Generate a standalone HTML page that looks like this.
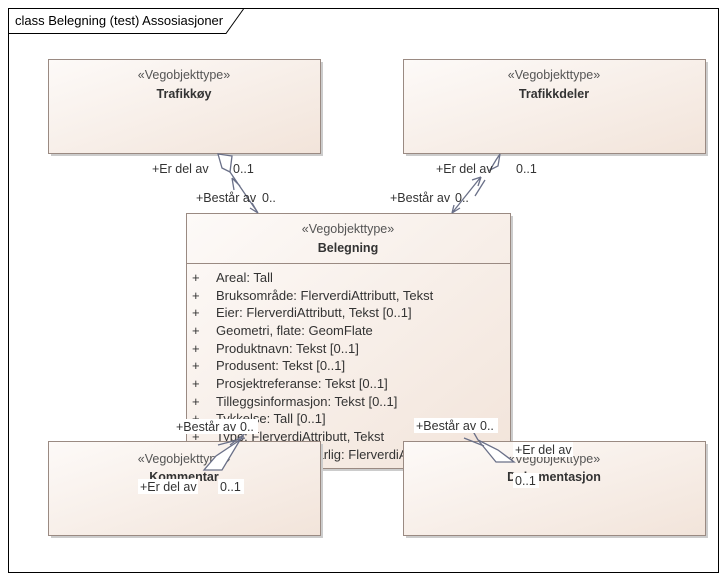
<!DOCTYPE html>
<html><head><meta charset="utf-8"><style>
html,body{margin:0;padding:0;background:#fff}
svg{display:block;font-family:"Liberation Sans",sans-serif;font-size:12.5px}
</style></head><body>
<svg width="726" height="580" viewBox="0 0 726 580">
<defs>
<linearGradient id="g" x1="0" y1="0" x2="1" y2="1">
<stop offset="0" stop-color="#fdfaf8"/><stop offset="1" stop-color="#f2e4da"/>
</linearGradient>
</defs>
<rect x="8.5" y="8.5" width="710" height="564" fill="#fff" stroke="#000"/>
<path d="M8.5 33.5 H226 L243.5 9" fill="none" stroke="#000"/>
<text x="15" y="25" font-size="13" fill="#000">class Belegning (test) Assosiasjoner</text>

<g stroke="#9a8a82" fill="url(#g)">
<rect x="51" y="62" width="272" height="94" fill="#ccc" stroke="none"/>
<rect x="48.5" y="59.5" width="272" height="94"/>
<rect x="406" y="62" width="302" height="94" fill="#ccc" stroke="none"/>
<rect x="403.5" y="59.5" width="302" height="94"/>
<rect x="189" y="216" width="324" height="255" fill="#ccc" stroke="none"/>
<rect x="186.5" y="213.5" width="324" height="255"/>
<line x1="186.5" y1="263.5" x2="510.5" y2="263.5"/>
</g>
<g fill="#333">
<text x="184" y="79" text-anchor="middle" fill="#555">«Vegobjekttype»</text>
<text x="184" y="98" text-anchor="middle" font-weight="bold">Trafikkøy</text>
<text x="554" y="79" text-anchor="middle" fill="#555">«Vegobjekttype»</text>
<text x="554" y="98" text-anchor="middle" font-weight="bold">Trafikkdeler</text>
<text x="348" y="233" text-anchor="middle" fill="#555">«Vegobjekttype»</text>
<text x="348" y="252" text-anchor="middle" font-weight="bold">Belegning</text>
</g>
<g fill="#333" font-size="13">
<text x="192" y="282">+</text><text x="216" y="282">Areal: Tall</text>
<text x="192" y="300">+</text><text x="216" y="300">Bruksområde: FlerverdiAttributt, Tekst</text>
<text x="192" y="317">+</text><text x="216" y="317">Eier: FlerverdiAttributt, Tekst [0..1]</text>
<text x="192" y="335">+</text><text x="216" y="335">Geometri, flate: GeomFlate</text>
<text x="192" y="353">+</text><text x="216" y="353">Produktnavn: Tekst [0..1]</text>
<text x="192" y="370">+</text><text x="216" y="370">Produsent: Tekst [0..1]</text>
<text x="192" y="388">+</text><text x="216" y="388">Prosjektreferanse: Tekst [0..1]</text>
<text x="192" y="406">+</text><text x="216" y="406">Tilleggsinformasjon: Tekst [0..1]</text>
<text x="192" y="423">+</text><text x="216" y="423">Tykkelse: Tall [0..1]</text>
<text x="192" y="441">+</text><text x="216" y="441">Type: FlerverdiAttributt, Tekst</text>
<text x="192" y="459">+</text><text x="216" y="459">Vedlikeholdsansvarlig: FlerverdiAttributt</text>
</g>
<g stroke="#9a8a82" fill="url(#g)">
<rect x="51" y="444" width="272" height="94" fill="#ccc" stroke="none"/>
<rect x="48.5" y="441.5" width="272" height="94"/>
<rect x="406" y="444" width="302" height="94" fill="#ccc" stroke="none"/>
<rect x="403.5" y="441.5" width="302" height="94"/>
</g>
<g fill="#333">
<text x="184" y="463" text-anchor="middle" fill="#555">«Vegobjekttype»</text>
<text x="184" y="481" text-anchor="middle" font-weight="bold">Kommentar</text>
<text x="554" y="463" text-anchor="middle" fill="#555">«Vegobjekttype»</text>
<text x="554" y="481" text-anchor="middle" font-weight="bold">Dokumentasjon</text>
</g>
<g stroke="#6a7088" stroke-width="1.3" fill="none">
<path d="M218 154 L232 156 L230 172 L222 168 Z" fill="#fff"/>
<path d="M230 172 L258 213 M232 178 L234 190 M232 178 L240 186 M258 213 L250 208 M258 213 L252 203"/>
<path d="M500 154 L498 166 L490 170 L496 160 Z" fill="#fff"/>
<path d="M480 178 L452 213 M481 177 L472 180 M481 177 L478 186 M452 213 L454 205 M452 213 L460 208 M485 180 L475 196"/>
<path d="M240 440 L222 470 L204 470 L216 456 Z" fill="#fff"/>
<path d="M240 440 L248 428 M218 445 L245 438 M230 445 L247 432"/>
<path d="M478 440 L496 462 L514 462 L498 450 Z" fill="#fff"/>
<path d="M464 438 L484 446 M478 440 L470 426"/>
</g>
<g fill="#333">
<rect x="150" y="160" width="60" height="16" fill="#fff"/>
<text x="152" y="173">+Er del av</text>
<text x="233" y="173">0..1</text>
<text x="196" y="202">+Består av</text><text x="262" y="202">0..</text>
<text x="436" y="173">+Er del av</text>
<text x="516" y="173">0..1</text>
<text x="390" y="202">+Består av</text><text x="455" y="202">0..</text>
<rect x="174" y="419" width="84" height="15" fill="#fff"/>
<text x="176" y="431">+Består av</text><text x="240" y="431">0..</text>
<rect x="138" y="479" width="60" height="15" fill="#fff"/>
<text x="140" y="491">+Er del av</text>
<rect x="218" y="479" width="26" height="15" fill="#fff"/>
<text x="220" y="491">0..1</text>
<rect x="414" y="418" width="84" height="15" fill="#fff"/>
<text x="416" y="430">+Består av</text><text x="480" y="430">0..</text>
<rect x="513" y="442" width="60" height="15" fill="#fff"/>
<text x="515" y="454">+Er del av</text>
<rect x="513" y="473" width="26" height="15" fill="#fff"/>
<text x="515" y="485">0..1</text>
</g>
</svg>
</body></html>
